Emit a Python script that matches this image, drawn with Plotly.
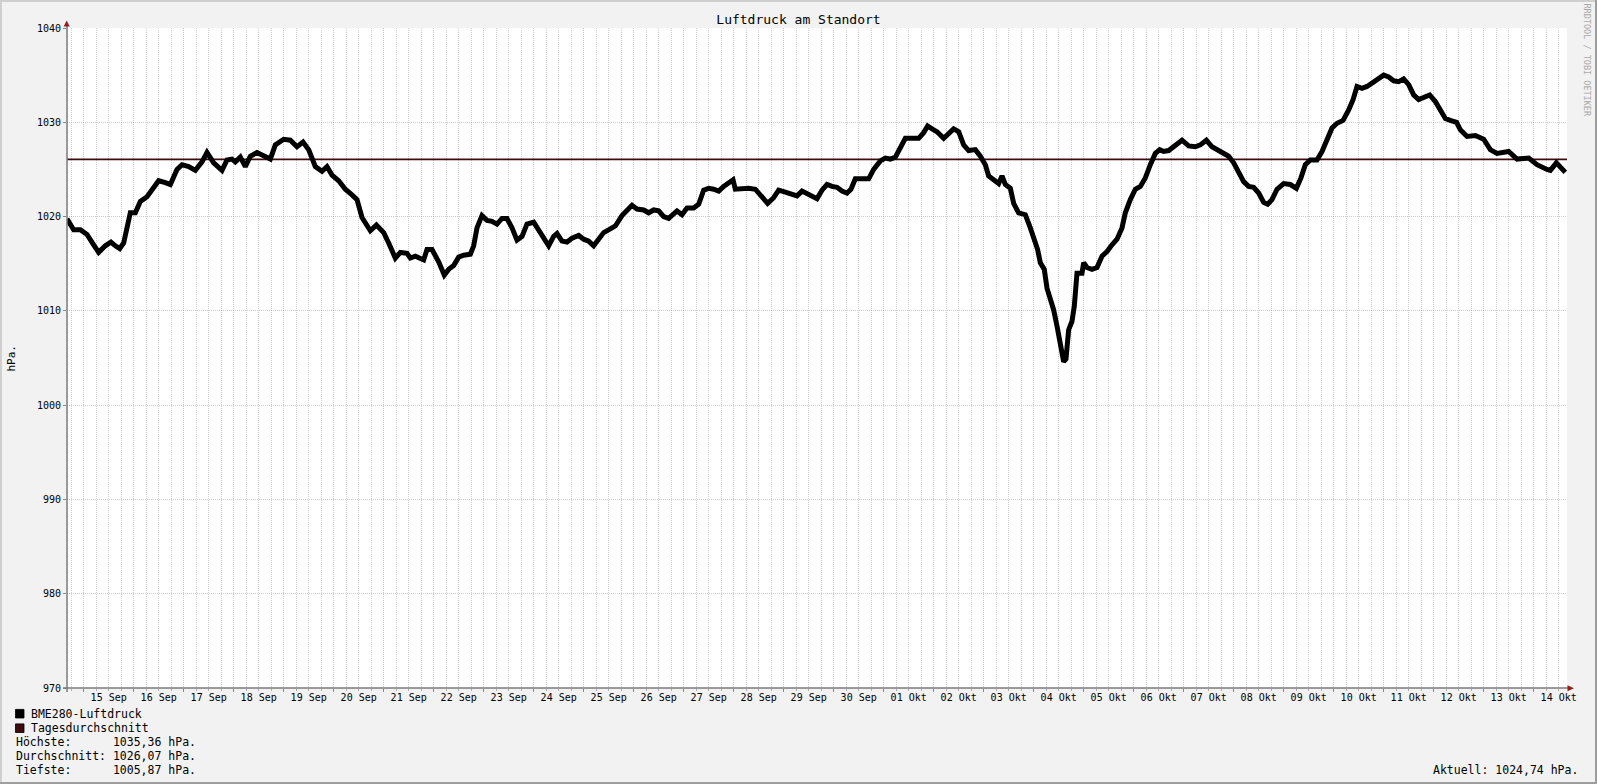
import datetime as dt
import plotly.graph_objects as go

# ---------------- data ----------------
title_text = "Luftdruck am Standort"
start = dt.datetime(2023, 9, 14, 16, 0)
end = dt.datetime(2023, 10, 14, 16, 0)

# hours since start, pressure in hPa
hours = [
    0, 3.2, 6.4, 9.6, 12.8, 15.2, 18.4, 21.1, 23.2, 25.3, 27.2, 28.8, 30.4, 32.8, 35.2, 38.4, 40.8,
    44.0, 47.2, 49.6, 52.8, 55.2, 58.4, 61.6, 64.8, 67.2, 70.4, 74.4, 76.8, 79.2, 80.8, 83.2, 85.6,
    88.0, 91.2, 94.4, 97.6, 100.0, 104.0, 107.2, 110.4, 113.3, 116.0, 119.2, 122.4, 124.8, 127.2,
    130.4, 133.6, 136.8, 139.2, 141.6, 145.6, 148.5, 152.0, 154.4, 157.6, 160.0, 163.2, 164.8,
    167.2, 171.2, 172.8, 175.2,
    178.4, 181.1, 183.2, 185.6, 188.0, 190.4, 193.6, 195.2, 196.8, 199.2, 201.6, 204.0, 206.4,
    208.8, 211.2, 213.6, 216.0, 218.4, 220.8, 224.0, 226.4, 228.8, 231.2, 233.6, 235.2, 237.6,
    240.0, 242.4, 245.6, 248.0, 250.4, 252.8, 255.2, 257.6, 260.8, 263.2, 266.4, 268.8, 271.2,
    273.6, 276.8, 279.2, 281.6, 284.0, 286.4, 288.8, 291.2, 292.8, 295.2, 297.6, 300.8, 303.2,
    305.6, 308.0, 310.4, 312.8, 315.2, 317.6, 319.7, 320.8, 324.0, 327.2, 330.4, 333.6, 336.3,
    339.2, 341.6, 344.8, 348.0, 350.4, 352.8,
    356.8, 360.0, 362.4, 364.8, 367.2, 369.6, 372.0, 374.4, 376.3, 378.4, 381.6, 384.8, 387.2,
    390.4, 392.8, 395.2, 397.6, 400.0, 402.4, 405.6, 408.8, 411.2, 413.1, 415.2, 417.6, 420.8,
    423.2, 425.6, 428.0, 430.4, 432.8, 436.0, 438.4, 440.8, 442.4, 444.8, 447.2, 448.8, 450.4,
    452.8, 454.4, 456.8, 460.0, 462.4, 464.0, 465.9, 467.2, 469.1, 470.4, 472.3, 473.6, 475.2,
    476.8, 478.4, 479.5, 480.8, 482.4, 483.5, 484.8, 487.2, 488.0, 489.6, 492.0, 494.4, 496.8,
    499.2, 501.6, 504.0, 506.4, 508.0, 510.4, 512.8, 515.2, 517.6, 520.0, 522.4, 524.5, 526.4,
    528.8,
    532.0, 535.2, 538.4, 541.6, 544.0, 546.9, 549.6, 552.0, 555.2, 557.6, 560.0, 562.4, 564.8,
    567.2, 569.6, 572.0, 574.4, 576.3, 578.4, 580.8, 584.0, 587.2, 590.1, 592.3, 594.4, 596.8,
    600.0, 602.4, 604.8, 607.2, 609.6, 612.5, 615.2, 617.3, 619.2, 621.6, 624.0, 626.4, 628.8,
    632.0, 634.4, 636.8, 639.2, 641.6, 644.0, 646.4, 648.8, 651.2, 654.1, 656.8, 659.2, 661.6,
    664.0, 667.0,
    668.8, 672.0, 676.0, 680.0, 683.2, 686.4, 692.0, 696.0, 701.6, 705.6, 710.4, 712.0, 714.9,
    716.8, 719.2,
]
pressure = [
    1019.75, 1018.6, 1018.6, 1018.1, 1017.0, 1016.2, 1016.9, 1017.3, 1016.9, 1016.6, 1017.2, 1018.8,
    1020.4, 1020.4, 1021.6, 1022.1, 1022.9, 1023.8, 1023.6, 1023.4, 1025.0, 1025.5, 1025.3, 1024.9,
    1025.8, 1026.8, 1025.7, 1024.9, 1026.0, 1026.1, 1025.8, 1026.3, 1025.3, 1026.4, 1026.8, 1026.5,
    1026.1, 1027.6, 1028.2, 1028.1, 1027.4, 1027.9, 1027.1, 1025.3, 1024.8, 1025.3, 1024.4, 1023.8,
    1022.9, 1022.3, 1021.8, 1019.9, 1018.5, 1019.1, 1018.3, 1017.2, 1015.6, 1016.2, 1016.1, 1015.6,
    1015.8, 1015.4, 1016.5, 1016.5,
    1015.2, 1013.8, 1014.4, 1014.8, 1015.7, 1015.9, 1016.0, 1016.9, 1018.8, 1020.1, 1019.6, 1019.5,
    1019.2, 1019.8, 1019.8, 1018.8, 1017.5, 1017.9, 1019.2, 1019.4, 1018.6, 1017.9, 1016.9, 1017.9,
    1018.2, 1017.4, 1017.3, 1017.7, 1018.0, 1017.6, 1017.4, 1016.9, 1017.6, 1018.3, 1018.7, 1019.0,
    1020.1, 1020.6, 1021.2, 1020.8, 1020.7, 1020.4, 1020.7, 1020.6, 1020.0, 1019.8, 1020.4, 1020.6,
    1020.2, 1020.9, 1020.9, 1021.3, 1022.8, 1023.0, 1022.9, 1022.7, 1023.2, 1023.6, 1023.9, 1022.9,
    1023.0, 1023.0, 1022.9, 1022.0, 1021.4, 1022.0, 1022.8, 1022.6, 1022.4, 1022.2, 1022.7,
    1022.3, 1021.9, 1022.8, 1023.4, 1023.2, 1023.1, 1022.7, 1022.5, 1022.9, 1024.0, 1024.0, 1024.0,
    1025.0, 1025.9, 1026.2, 1026.1, 1026.3, 1027.4, 1028.3, 1028.3, 1028.3, 1028.9, 1029.6, 1029.3,
    1029.0, 1028.3, 1028.8, 1029.3, 1029.0, 1027.6, 1027.0, 1027.1, 1026.4, 1025.5, 1024.3, 1023.9,
    1023.5, 1024.3, 1023.4, 1023.0, 1021.4, 1020.4, 1020.2, 1018.8, 1017.7, 1016.5, 1015.1, 1014.4,
    1012.4, 1011.0, 1010.1, 1008.4, 1006.4, 1004.6, 1004.9, 1008.0, 1008.9, 1010.5, 1014.0, 1014.0,
    1015.1, 1014.6, 1014.4, 1014.6, 1015.8, 1016.3, 1017.0, 1017.6, 1018.8, 1020.4, 1021.8, 1022.9,
    1023.2, 1024.1, 1025.5, 1026.7, 1027.1, 1026.9, 1027.0,
    1027.6, 1028.1, 1027.5, 1027.4, 1027.6, 1028.1, 1027.4, 1027.1, 1026.7, 1026.4, 1025.7, 1024.6,
    1023.7, 1023.2, 1023.1, 1022.5, 1021.5, 1021.3, 1021.8, 1022.9, 1023.5, 1023.4, 1023.0, 1024.1,
    1025.5, 1026.0, 1026.0, 1026.9, 1028.3, 1029.4, 1029.9, 1030.2, 1031.3, 1032.4, 1033.8, 1033.6,
    1033.8, 1034.2, 1034.6, 1035.0, 1034.8, 1034.4, 1034.3, 1034.6, 1034.0, 1032.9, 1032.4, 1032.6,
    1032.9, 1032.2, 1031.3, 1030.4, 1030.2, 1030.0,
    1029.2, 1028.5, 1028.6, 1028.2, 1027.1, 1026.7, 1026.9, 1026.1, 1026.2, 1025.5, 1025.0, 1024.9,
    1025.7, 1025.3, 1024.7,
]
avg_value = 1026.07

day_labels = [
    "15 Sep", "16 Sep", "17 Sep", "18 Sep", "19 Sep", "20 Sep", "21 Sep", "22 Sep", "23 Sep",
    "24 Sep", "25 Sep", "26 Sep", "27 Sep", "28 Sep", "29 Sep", "30 Sep", "01 Okt", "02 Okt",
    "03 Okt", "04 Okt", "05 Okt", "06 Okt", "07 Okt", "08 Okt", "09 Okt", "10 Okt", "11 Okt",
    "12 Okt", "13 Okt", "14 Okt",
]
y_ticks = [970, 980, 990, 1000, 1010, 1020, 1030, 1040]
legend_names = ["BME280-Luftdruck", "Tagesdurchschnitt"]
legend_colors = ["#000000", "#3e0c0c"]
stats_labels = ["Höchste:", "Durchschnitt:", "Tiefste:"]
stats_values = ["1035,36", "1026,07", "1005,87"]
current_label = "Aktuell:"
current_value = "1024,74"
unit = "hPa."
watermark = "RRDTOOL / TOBI OETIKER"

# ---------------- layout geometry ----------------
W, H = 1597, 784
L, R, T, B = 67, 30, 28, 96
PW, PH = W - L - R, H - T - B
FONT = "DejaVu Sans Mono"


def px(x):
    return (x - L) / PW


def py(y):
    return (H - B - y) / PH


times = [start + dt.timedelta(hours=h) for h in hours]
first_midnight = dt.datetime(start.year, start.month, start.day) + dt.timedelta(days=1)
label_pos = [first_midnight + dt.timedelta(days=i, hours=12) for i in range(len(day_labels))]

fig = go.Figure()
fig.add_trace(go.Scatter(
    x=[start, end], y=[avg_value, avg_value], mode="lines",
    line=dict(color=legend_colors[1], width=1.6), name=legend_names[1],
    showlegend=False, hoverinfo="skip"))
fig.add_trace(go.Scatter(
    x=times, y=pressure, mode="lines",
    line=dict(color=legend_colors[0], width=5), name=legend_names[0],
    showlegend=False, hoverinfo="skip"))
# carrier trace for the day-label axis
fig.add_trace(go.Scatter(
    x=[start, end], y=[avg_value, avg_value], mode="markers", xaxis="x2",
    marker=dict(opacity=0), showlegend=False, hoverinfo="skip"))

MGRID = "rgba(222,80,80,0.38)"
GRID = "rgba(143,143,143,0.38)"

fig.update_layout(
    width=W, height=H,
    margin=dict(l=L, r=R, t=T, b=B, pad=0),
    paper_bgcolor="#f2f2f2", plot_bgcolor="#ffffff",
    font=dict(family=FONT, size=10, color="#000000"),
    title=dict(text=title_text, x=0.5, xref="container", xanchor="center",
               y=1 - 19 / H, yref="container", yanchor="middle",
               font=dict(family=FONT, size=13, color="#000000")),
    showlegend=False,
    xaxis=dict(
        type="date", range=[start, end],
        tickmode="linear", tick0=first_midnight, dtick=86400000,
        showticklabels=False, ticks="outside", ticklen=3, tickcolor="#888888",
        showgrid=True, gridcolor=MGRID, griddash="1px,1px", gridwidth=1,
        minor=dict(tick0=first_midnight, dtick=21600000, showgrid=True,
                   gridcolor=GRID, griddash="1px,1px", gridwidth=1,
                   ticks="outside", ticklen=2, tickcolor="#aaaaaa"),
        zeroline=False, showline=False, fixedrange=True,
    ),
    xaxis2=dict(
        type="date", overlaying="x", matches="x", anchor="y", side="bottom",
        tickmode="array", tickvals=label_pos, ticktext=day_labels,
        showgrid=False, ticks="", showline=False, zeroline=False,
        tickfont=dict(family=FONT, size=10, color="#000000"),
        ticklabelstandoff=2,
    ),
    yaxis=dict(
        range=[970, 1040], tickmode="array", tickvals=y_ticks,
        ticktext=[str(v) for v in y_ticks],
        showgrid=True, gridcolor=MGRID, griddash="1px,1px", gridwidth=1,
        ticks="outside", ticklen=3, tickcolor="#888888",
        tickfont=dict(family=FONT, size=10, color="#000000"),
        zeroline=False, showline=False, fixedrange=True,
    ),
)

shapes = []
# 3D frame of the canvas
shapes.append(dict(type="rect", xref="paper", yref="paper", x0=px(0), x1=px(W), y0=py(0), y1=py(2),
                   fillcolor="#cfcfcf", line=dict(width=0), layer="above"))
shapes.append(dict(type="rect", xref="paper", yref="paper", x0=px(0), x1=px(2), y0=py(0), y1=py(H),
                   fillcolor="#cfcfcf", line=dict(width=0), layer="above"))
shapes.append(dict(type="rect", xref="paper", yref="paper", x0=px(0), x1=px(W), y0=py(H - 2), y1=py(H),
                   fillcolor="#9e9e9e", line=dict(width=0), layer="above"))
shapes.append(dict(type="rect", xref="paper", yref="paper", x0=px(W - 2), x1=px(W), y0=py(0), y1=py(H),
                   fillcolor="#9e9e9e", line=dict(width=0), layer="above"))
# axis lines
shapes.append(dict(type="line", xref="paper", yref="paper", x0=px(63), x1=px(1570), y0=0, y1=0,
                   line=dict(color="#7a7a7a", width=1.5), layer="above"))
shapes.append(dict(type="line", xref="paper", yref="paper", x0=0, x1=0, y0=py(692), y1=py(24),
                   line=dict(color="#7a7a7a", width=1.5), layer="above"))
# arrow heads
shapes.append(dict(type="path", xref="paper", yref="paper",
                   path=f"M {px(63.7)},{py(26.5)} L {px(69.7)},{py(26.5)} L {px(66.7)},{py(20.5)} Z",
                   fillcolor="#9b1b1b", line=dict(width=0), layer="above"))
shapes.append(dict(type="path", xref="paper", yref="paper",
                   path=f"M {px(1567.5)},{py(685.3)} L {px(1567.5)},{py(691.3)} L {px(1574)},{py(688.3)} Z",
                   fillcolor="#9b1b1b", line=dict(width=0), layer="above"))
# legend boxes
legend_y = [713.7, 728.2]
for c, yc in zip(legend_colors, legend_y):
    shapes.append(dict(type="rect", xref="paper", yref="paper",
                       x0=px(15.5), x1=px(24), y0=py(yc - 4.3), y1=py(yc + 4.3),
                       fillcolor=c, line=dict(color="#000000", width=0.8), layer="above"))
fig.update_layout(shapes=shapes)

NB = "\u00a0"
ann = []
LEG_FONT = dict(family=FONT, size=11.5, color="#000000")
for name, yc in zip(legend_names, legend_y):
    ann.append(dict(text=name, xref="paper", yref="paper", x=px(29), y=py(yc),
                    xanchor="left", yanchor="middle", showarrow=False, font=LEG_FONT))
stats_y = [742.3, 756.3, 770.0]
for lab, val, yc in zip(stats_labels, stats_values, stats_y):
    txt = (lab.ljust(14) + val + " " + unit).replace(" ", NB)
    ann.append(dict(text=txt, xref="paper", yref="paper", x=px(14), y=py(yc),
                    xanchor="left", yanchor="middle", showarrow=False, font=LEG_FONT))
ann.append(dict(text=(current_label + " " + current_value + " " + unit).replace(" ", NB),
                xref="paper", yref="paper", x=px(1580.5), y=py(769.5),
                xanchor="right", yanchor="middle", showarrow=False, font=LEG_FONT))
ann.append(dict(text=unit, xref="paper", yref="paper", x=px(10.5), y=py(358),
                xanchor="center", yanchor="middle", textangle=-90, showarrow=False,
                font=dict(family=FONT, size=11, color="#000000")))
ann.append(dict(text=watermark, xref="paper", yref="paper", x=px(1586.5), y=py(60),
                xanchor="center", yanchor="middle", textangle=90, showarrow=False,
                font=dict(family=FONT, size=8.5, color="#a9a9a9")))
fig.update_layout(annotations=ann)

fig.write_html("out.html", config={"displayModeBar": False},
               post_script="document.body.style.margin='0';document.body.style.overflow='hidden';")
